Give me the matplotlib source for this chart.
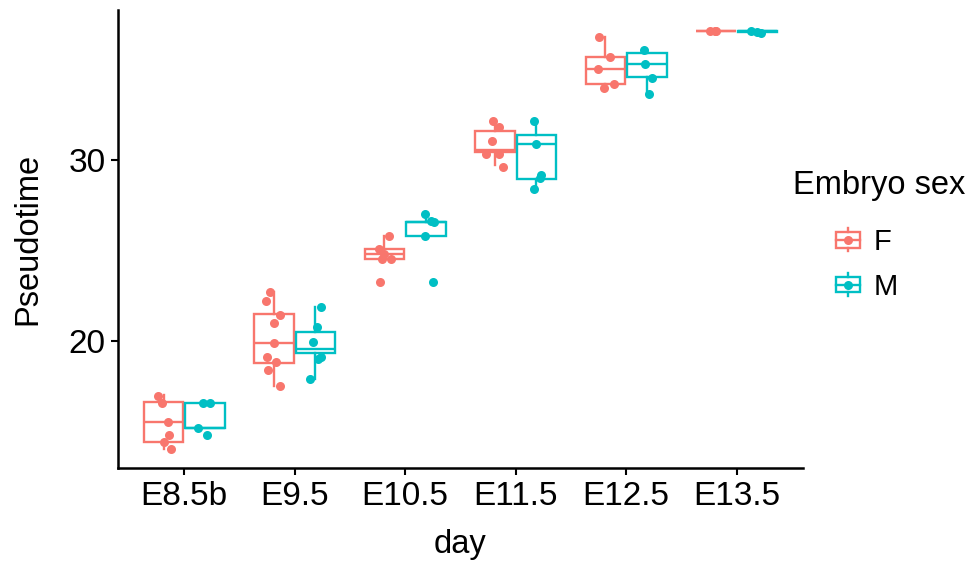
import numpy as np
import matplotlib
matplotlib.use('Agg')
import matplotlib.pyplot as plt
from matplotlib.patches import Patch, Rectangle
from matplotlib.lines import Line2D
from matplotlib.legend_handler import HandlerBase

plt.rcParams['font.family'] = ['Liberation Sans', 'DejaVu Sans']

days = ['E8.5b', 'E9.5', 'E10.5', 'E11.5', 'E12.5', 'E13.5']
sexes = ['F', 'M']
colors = {'F': '#F8766D', 'M': '#00BFC4'}

# box statistics (whislo, q1, median, q3, whishi)
f_whislo = [14.00, 17.50, 24.54, 29.72, 34.06, 37.18]
f_q1 = [14.41, 18.74, 24.54, 30.46, 34.22, 37.18]
f_med = [15.52, 19.87, 24.81, 30.59, 35.09, 37.18]
f_q3 = [16.61, 21.48, 25.09, 31.63, 35.71, 37.18]
f_whishi = [17.00, 22.68, 25.83, 32.22, 36.82, 37.18]

m_whislo = [15.18, 17.87, 25.83, 28.43, 33.70, 37.12]
m_q1 = [15.18, 19.30, 25.83, 28.98, 34.63, 37.12]
m_med = [15.18, 19.54, 26.57, 30.89, 35.32, 37.15]
m_q3 = [16.57, 20.46, 26.57, 31.39, 35.93, 37.18]
m_whishi = [16.57, 21.85, 27.00, 32.18, 36.11, 37.18]

# jittered embryos
f_points = [
    [16.95, 16.55, 15.52, 14.78, 14.41, 13.98],
    [22.68, 22.20, 21.43, 20.98, 19.87, 19.11, 18.80, 18.37, 17.50],
    [25.83, 25.09, 24.80, 24.54, 24.54, 23.28],
    [32.18, 31.85, 31.07, 30.37, 30.37, 29.63],
    [36.82, 35.71, 35.09, 34.22, 34.04],
    [37.18, 37.20, 37.17],
]
f_jitter = [
    [-0.05, -0.01, 0.04, 0.05, 0.00, 0.07],
    [-0.04, -0.07, 0.05, 0.00, 0.00, -0.06, 0.02, -0.05, 0.05],
    [0.04, -0.05, 0.00, -0.02, 0.06, -0.04],
    [-0.02, 0.04, -0.03, -0.08, 0.04, 0.07],
    [-0.06, 0.04, -0.07, 0.075, -0.015],
    [-0.05, -0.01, 0.00],
]
m_points = [
    [16.57, 16.57, 15.15, 14.76],
    [21.85, 20.74, 19.91, 19.11, 19.00, 17.87],
    [27.00, 26.63, 26.60, 25.83, 23.24],
    [32.18, 30.89, 29.17, 29.00, 28.43],
    [36.11, 35.32, 34.59, 33.70],
    [37.20, 37.10, 37.05],
]
m_jitter = [
    [-0.02, 0.05, -0.06, 0.02],
    [0.05, 0.01, -0.02, 0.05, 0.02, -0.05],
    [-0.01, 0.05, 0.07, -0.01, 0.06],
    [-0.02, 0.00, 0.04, 0.03, -0.02],
    [-0.025, -0.015, 0.045, 0.015],
    [-0.06, 0.00, 0.03],
]

stats = {
    'F': (f_whislo, f_q1, f_med, f_q3, f_whishi, f_points, f_jitter),
    'M': (m_whislo, m_q1, m_med, m_q3, m_whishi, m_points, m_jitter),
}

fig = plt.figure(figsize=(9.74, 5.63), dpi=100)
ax = fig.add_axes([0.1211, 0.168, 0.7033, 0.814])

x = np.arange(1, len(days) + 1)
dodge = 0.1875
lw = 1.7
for k, sex in enumerate(sexes):
    wlo, q1, med, q3, whi, pts, jit = stats[sex]
    c = colors[sex]
    off = -dodge if sex == 'F' else dodge
    bstats = [dict(whislo=wlo[i], q1=q1[i], med=med[i], q3=q3[i], whishi=whi[i], fliers=[])
              for i in range(len(days))]
    ax.bxp(bstats, positions=x + off, widths=0.355, showfliers=False, showcaps=False,
           patch_artist=True, manage_ticks=False,
           boxprops=dict(facecolor='white', edgecolor=c, linewidth=lw),
           medianprops=dict(color=c, linewidth=lw, solid_capstyle='butt'),
           whiskerprops=dict(color=c, linewidth=lw))
    for i in range(len(days)):
        ax.plot(x[i] + off + np.array(jit[i]), pts[i], 'o', color=c, ms=6.5,
                mec='none', zorder=5)

ax.set_xlim(0.4, 6.6)
ax.set_ylim(12.92, 38.33)
ax.set_xticks(x)
ax.set_xticklabels(days)
ax.set_yticks([20, 30])
for s in ['top', 'right']:
    ax.spines[s].set_visible(False)
for s in ['left', 'bottom']:
    ax.spines[s].set_linewidth(1.8)
ax.tick_params(labelsize=24, length=5, width=1.5, pad=4, colors='black')
ax.set_xlabel('day', fontsize=23.5, labelpad=12)
ax.set_ylabel('Pseudotime', fontsize=23.5, labelpad=18)


class BoxKey(HandlerBase):
    # key glyph sits at the right end of the handle area (ggplot indents keys under the title)
    def create_artists(self, legend, orig_handle, xdescent, ydescent, width, height, fontsize, trans):
        c = orig_handle.get_edgecolor()
        bw = 17
        cx = width - xdescent - bw / 2
        cy = height / 2 - ydescent
        bh = height * 0.74
        box = Rectangle((cx - bw / 2, cy - bh / 2), bw, bh, facecolor='white',
                        edgecolor=c, linewidth=lw, transform=trans)
        mline = Line2D([cx - bw / 2, cx + bw / 2], [cy, cy], color=c, lw=lw, transform=trans)
        w1 = Line2D([cx, cx], [cy + bh / 2, cy + height * 0.55], color=c, lw=lw, transform=trans)
        w2 = Line2D([cx, cx], [cy - bh / 2, cy - height * 0.55], color=c, lw=lw, transform=trans)
        dot = Line2D([cx], [cy], marker='o', ms=6.5, color=c, mec='none', transform=trans)
        return [box, mline, w1, w2, dot]


handles = [Patch(edgecolor=colors[s], facecolor='white') for s in sexes]
leg = ax.legend(handles, sexes, title='Embryo sex', handler_map={Patch: BoxKey()},
                loc='center left', bbox_to_anchor=(1.0, 0.5), frameon=False,
                fontsize=21, title_fontsize=23.5, handlelength=2.3, handleheight=0.75,
                handletextpad=0.45, labelspacing=0.58, borderaxespad=0.0,
                borderpad=0.0)
leg._legend_box.align = 'left'
leg._legend_box.sep = 19

fig.canvas.draw()
# nudge legend block so the title starts where ggplot put it
bb = leg.get_window_extent()
dx = (793 - bb.x0) / fig.bbox.width
leg.set_bbox_to_anchor((1.0 + dx / 0.7033, 0.508), transform=ax.transAxes)

fig.savefig('out.png', dpi=100)
